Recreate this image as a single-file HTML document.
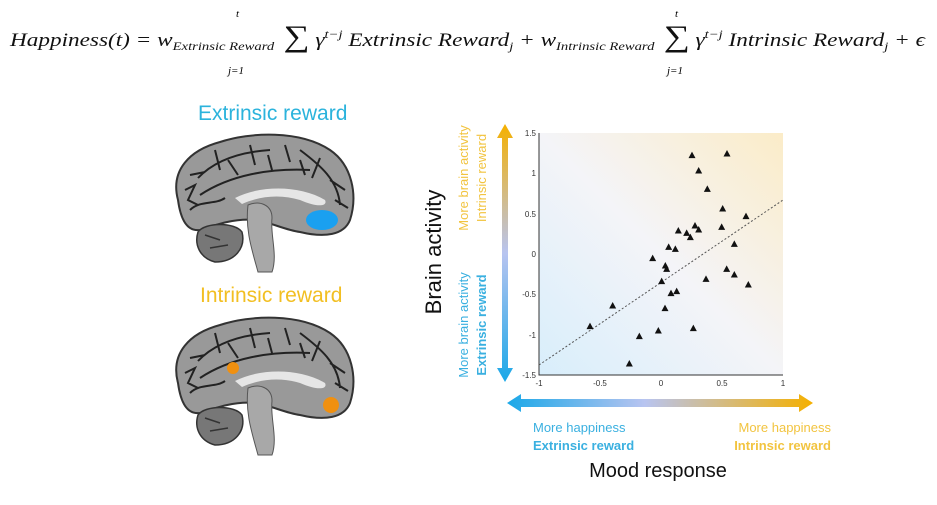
<!DOCTYPE html>
<html><head><meta charset="utf-8"><style>
body{margin:0;width:937px;height:500px;background:#fff;overflow:hidden;font-family:"Liberation Sans",sans-serif}
</style></head><body>
<svg width="937" height="500" viewBox="0 0 937 500" xmlns="http://www.w3.org/2000/svg">
<defs>
<linearGradient id="bg" x1="0" y1="1" x2="1" y2="0">
<stop offset="0" stop-color="#d8eefb"/><stop offset="0.5" stop-color="#f4f4f8"/><stop offset="1" stop-color="#fbecc8"/></linearGradient>
<linearGradient id="hg" x1="0" y1="0" x2="1" y2="0">
<stop offset="0" stop-color="#1aa8e8"/><stop offset="0.45" stop-color="#b8c4f0"/><stop offset="1" stop-color="#f5b000"/></linearGradient>
<linearGradient id="vg" x1="0" y1="1" x2="0" y2="0">
<stop offset="0" stop-color="#1aa8e8"/><stop offset="0.5" stop-color="#b8c4f0"/><stop offset="1" stop-color="#f5b000"/></linearGradient>
<g id="brain">
<path d="M178,200 C170,170 190,150 220,142 C250,132 300,130 330,150 C352,165 358,195 350,220 C344,235 325,238 300,232 C285,230 270,222 255,220 C235,218 215,225 200,230 C185,232 180,215 178,200Z" fill="#999" stroke="#333" stroke-width="2"/>
<path d="M198,178 C215,160 240,152 270,150 M200,195 C230,175 270,168 310,170 M190,210 C200,200 215,205 225,198 M300,150 C320,165 338,180 340,205 M215,150 L220,170 M250,145 L255,165 M285,145 L290,162 M320,158 L312,178 M185,190 L195,185 L188,200 L198,205 M330,180 L345,190 M335,200 L348,208 M228,160 L238,175 M268,155 L272,170 M300,160 L305,175 M190,175 L205,172" stroke="#222" stroke-width="2" fill="none"/>
<path d="M235,198 C260,185 300,185 325,200 C328,206 318,208 300,200 C280,194 260,196 242,204Z" fill="#e6e6e6"/>
<path d="M198,232 C205,222 235,222 242,232 C246,248 235,262 215,262 C200,258 194,245 198,232Z" fill="#777" stroke="#333" stroke-width="1.5"/>
<path d="M205,235 L220,240 M210,248 L228,245" stroke="#333" stroke-width="1.5"/>
<path d="M248,205 C260,200 272,205 272,218 C270,235 278,255 272,272 L258,272 C252,250 245,230 248,205Z" fill="#a8a8a8" stroke="#555" stroke-width="1"/>
</g>
</defs>
<text x="10" y="46" font-family="Liberation Serif,serif" font-style="italic" font-size="19" fill="#111" textLength="915" lengthAdjust="spacingAndGlyphs">Happiness(t) = w<tspan font-size="12" dy="4">Extrinsic Reward</tspan><tspan dy="-4" font-size="30" font-style="normal"> ∑</tspan><tspan> γ</tspan><tspan font-size="12" dy="-8">t−j</tspan><tspan dy="8"> Extrinsic Reward</tspan><tspan font-size="12" dy="4">j</tspan><tspan dy="-4"> + w</tspan><tspan font-size="12" dy="4">Intrinsic Reward</tspan><tspan dy="-4" font-size="30" font-style="normal"> ∑</tspan><tspan> γ</tspan><tspan font-size="12" dy="-8">t−j</tspan><tspan dy="8"> Intrinsic Reward</tspan><tspan font-size="12" dy="4">j</tspan><tspan dy="-4"> + ϵ</tspan></text>
<text x="236" y="17" font-family="Liberation Serif,serif" font-style="italic" font-size="11">t</text>
<text x="228" y="74" font-family="Liberation Serif,serif" font-style="italic" font-size="11">j=1</text>
<text x="675" y="17" font-family="Liberation Serif,serif" font-style="italic" font-size="11">t</text>
<text x="667" y="74" font-family="Liberation Serif,serif" font-style="italic" font-size="11">j=1</text>

<text x="198" y="120" font-size="21" fill="#2bb3dc">Extrinsic reward</text>
<use href="#brain"/>
<ellipse cx="322" cy="220" rx="16" ry="10" fill="#1aa0f0"/>
<text x="200" y="302" font-size="21" fill="#f2bf22">Intrinsic reward</text>
<use href="#brain" transform="translate(0,183)"/>
<circle cx="233" cy="368" r="6" fill="#f09010"/>
<circle cx="331" cy="405" r="8" fill="#f09010"/>

<rect x="539" y="133" width="244" height="242" fill="url(#bg)"/>
<path d="M539,133 V375 H783" fill="none" stroke="#333" stroke-width="1"/>
<g font-size="8" fill="#333" text-anchor="end">
<text x="536" y="136">1.5</text><text x="536" y="176">1</text><text x="536" y="217">0.5</text><text x="536" y="257">0</text><text x="536" y="297">-0.5</text><text x="536" y="338">-1</text><text x="536" y="378">-1.5</text></g>
<g font-size="8" fill="#333" text-anchor="middle">
<text x="539" y="386">-1</text><text x="600" y="386">-0.5</text><text x="661" y="386">0</text><text x="722" y="386">0.5</text><text x="783" y="386">1</text></g>
<line x1="539" y1="365" x2="783" y2="200" stroke="#555" stroke-width="1" stroke-dasharray="2,2"/>
<g fill="#111" id="pts"></g>

<path d="M505,124 L497,138 L502,138 L502,368 L497,368 L505,382 L513,368 L508,368 L508,138 L513,138Z" fill="url(#vg)"/>
<path d="M507,403 L521,394 L521,399 L799,399 L799,394 L813,403 L799,412 L799,407 L521,407 L521,412Z" fill="url(#hg)"/>

<text transform="translate(441,252) rotate(-90)" font-size="22" text-anchor="middle" fill="#111">Brain activity</text>
<text transform="translate(468,325) rotate(-90)" font-size="13" text-anchor="middle" fill="#3ab0e0">More brain activity</text>
<text transform="translate(486,325) rotate(-90)" font-size="13" font-weight="bold" text-anchor="middle" fill="#3ab0e0">Extrinsic reward</text>
<text transform="translate(468,178) rotate(-90)" font-size="13" text-anchor="middle" fill="#f2c440">More brain activity</text>
<text transform="translate(486,178) rotate(-90)" font-size="13" text-anchor="middle" fill="#f2c440">Intrinsic reward</text>

<text x="533" y="432" font-size="13" fill="#3ab0e0">More happiness</text>
<text x="533" y="450" font-size="13" font-weight="bold" fill="#3ab0e0">Extrinsic reward</text>
<text x="831" y="432" font-size="13" text-anchor="end" fill="#f2c440">More happiness</text>
<text x="831" y="450" font-size="13" font-weight="bold" text-anchor="end" fill="#f2c440">Intrinsic reward</text>
<text x="658" y="477" font-size="20" text-anchor="middle" fill="#111">Mood response</text>
</svg>
<script>
var p=[[816,137],[921,132],[836,183],[862,238],[908,297],[978,320],[825,348],[836,360],[905,352],[775,363],[800,370],[811,383],[746,412],[766,418],[943,403],[698,446],[736,468],[740,478],[920,478],[943,495],[725,515],[858,508],[985,525],[770,545],[753,551],[578,588],[735,596],[510,650],[715,663],[820,656],[658,680],[628,762]];
var g=document.getElementById('pts'),s='';
p.forEach(function(a){var x=420+a[0]/3,y=110+a[1]/3;s+='<polygon points="'+x+','+(y-4)+' '+(x-3.5)+','+(y+2.5)+' '+(x+3.5)+','+(y+2.5)+'"/>';});
g.innerHTML=s;
</script>
</body></html>
